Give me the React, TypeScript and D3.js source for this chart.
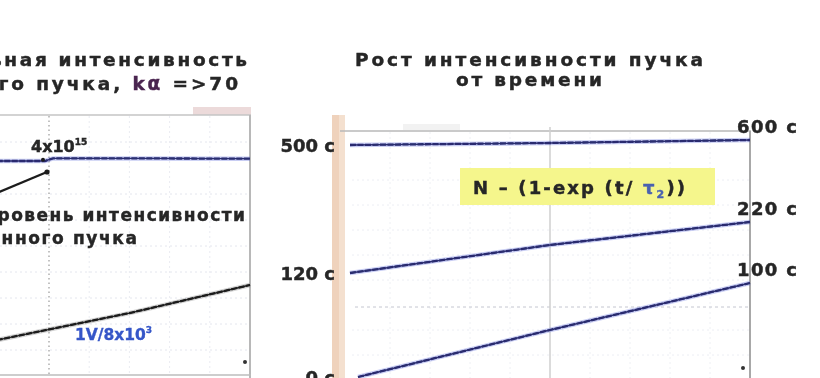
import React from 'react';
import * as d3 from 'd3';

const W = 820;
const H = 378;
const FONT = '"DejaVu Sans", "Liberation Sans", Arial, sans-serif';

// ---- left panel (time in divisions, value in divisions) ----
const plateauT = [3.7, 4.9, 5.1, 7, 10];
const plateauV = [8.27, 8.27, 8.37, 8.37, 8.36];
const rampT = [3.7, 7, 10];
const rampV = [1.38, 2.42, 3.5];
const leftGridV = [1, 2, 3, 4, 5, 6, 7, 9];
const leftGridT = [6, 7, 8, 9];

// ---- right panel ----
const rightT = [0, 5, 10];
const s500 = [9.4, 9.48, 9.6];
const s120 = [4.28, 5.4, 6.32];
const s0T = [0.2, 5, 10];
const s0 = [0.12, 2.0, 3.88];
const rightStartLabels = ['500 с', '120 с', '0 с'];
const rightEndLabels = ['600 с', '220 с', '100 с'];
const rightDashedV = [2.92];
const rightGridV = [1, 2, 4, 5, 6, 7, 8];
const rightGridT = [1, 2, 3, 4, 6, 7, 8, 9];

const lx = d3.scaleLinear().domain([0, 10]).range([-152, 250]);
const ly = d3.scaleLinear().domain([0, 10]).range([376, 116]);
const rx = d3.scaleLinear().domain([0, 10]).range([350, 750]);
const ry = d3.scaleLinear().domain([0, 10]).range([380, 130]);

const zip = (t: number[], v: number[]) => t.map((d, i) => [d, v[i]] as [number, number]);
const lLine = d3.line<[number, number]>().x(d => lx(d[0])).y(d => ly(d[1]));
const rLine = d3.line<[number, number]>().x(d => rx(d[0])).y(d => ry(d[1]));

const INK = '#262626';

function Trace({ d, color, halo }: { d: string; color: string; halo: string }) {
  return (
    <g>
      <path d={d} fill="none" stroke={halo} strokeWidth={4.5} strokeOpacity={0.3} />
      <path d={d} fill="none" stroke={color} strokeWidth={2.3} strokeDasharray="6 1.5" />
      <path d={d} fill="none" stroke={color} strokeWidth={1.4} />
    </g>
  );
}

export default function App() {
  const rSeries = [zip(rightT, s500), zip(rightT, s120), zip(s0T, s0)];
  const txt = { stroke: INK, strokeWidth: 0.45, fill: INK } as const;
  return (
    <svg width={W} height={H} style={{ position: 'absolute', left: 0, top: 0, background: '#fff' }}
      fontFamily={FONT} fontWeight="bold">
      <defs>
        <filter id="soft" x="-5%" y="-5%" width="110%" height="110%">
          <feGaussianBlur stdDeviation={0.45} />
        </filter>
      </defs>
      <rect x={0} y={0} width={W} height={H} fill="#ffffff" />
      <g filter="url(#soft)">
        {/* ===== left panel ===== */}
        <text x={-140} y={66} fontSize={18.5} textLength={387} lengthAdjust="spacing" {...txt}>Максимальная интенсивность</text>
        <text x={-158} y={90} fontSize={18.5} textLength={396} lengthAdjust="spacing" {...txt}>
          накопленного пучка,  <tspan fill="#4a2550" stroke="#4a2550">kα</tspan> =&gt;70
        </text>

        <rect x={193} y={107} width={58} height={8} fill="#ecdada" />
        <line x1={0} x2={251} y1={115} y2={115} stroke="#c4c4c4" strokeWidth={1.5} />
        <line x1={250} x2={250} y1={115} y2={378} stroke="#b8b8b8" strokeWidth={2} />
        <line x1={0} x2={251} y1={375} y2={375} stroke="#bdbdbd" strokeWidth={1.5} />

        {leftGridV.map(v => (
          <line key={'lgv' + v} x1={0} x2={250} y1={ly(v)} y2={ly(v)} stroke="#e4e6ee" strokeDasharray="2 3" />
        ))}
        {leftGridT.map(t => (
          <line key={'lgt' + t} x1={lx(t)} x2={lx(t)} y1={116} y2={375} stroke="#eaecf2" strokeDasharray="2 3" />
        ))}
        <line x1={lx(5)} x2={lx(5)} y1={116} y2={376} stroke="#9a9a9a" strokeWidth={1.2} strokeDasharray="1.5 3" />

        <Trace d={lLine(zip(plateauT, plateauV)) || ''} color="#2a2d70" halo="#4a5ad8" />
        <Trace d={lLine(zip(rampT, rampV)) || ''} color="#1c1c1c" halo="#666" />

        <text x={31} y={152} fontSize={16} {...txt}>4x10<tspan fontSize={9} dy={-7}>15</tspan></text>
        <line x1={lx(3.7)} y1={193} x2={lx(4.95)} y2={172} stroke="#1c1c1c" strokeWidth={2.4} />
        <circle cx={lx(4.95)} cy={172} r={2.6} fill="#1c1c1c" />
        <circle cx={lx(4.85)} cy={ly(8.32)} r={2} fill="#1c1c1c" />

        <text x={-15} y={221} fontSize={17} textLength={260} lengthAdjust="spacing" {...txt}>уровень интенсивности</text>
        <text x={-92} y={244} fontSize={17} textLength={229} lengthAdjust="spacing" {...txt}>накопленного пучка</text>

        <text x={75} y={340} fontSize={15.5} fill="#3656c8" stroke="#3656c8" strokeWidth={0.35}>1V/8x10<tspan fontSize={9} dy={-7}>3</tspan></text>
        <circle cx={245} cy={362} r={2} fill="#333" />

        {/* ===== right panel ===== */}
        <text x={355} y={66} fontSize={18.5} textLength={348} lengthAdjust="spacing" {...txt}>Рост интенсивности пучка</text>
        <text x={456} y={86} fontSize={18.5} textLength={146} lengthAdjust="spacing" {...txt}>от времени</text>

        <rect x={332} y={115} width={13} height={263} fill="#efd2bc" />
        <rect x={339} y={115} width={6} height={263} fill="#f4e0cf" />
        <rect x={403} y={124} width={57} height={6} fill="#f2f2f2" />
        <line x1={340} x2={751} y1={131} y2={131} stroke="#b8b8b8" strokeWidth={1.5} />
        <line x1={750} x2={750} y1={131} y2={378} stroke="#a8a8a8" strokeWidth={2} />

        {rightGridV.map(v => (
          <line key={'rgv' + v} x1={352} x2={750} y1={ry(v)} y2={ry(v)} stroke="#eceef4" strokeDasharray="2 3" />
        ))}
        {rightGridT.map(t => (
          <line key={'rgt' + t} x1={rx(t)} x2={rx(t)} y1={132} y2={378} stroke="#eef0f4" strokeDasharray="2 3" />
        ))}
        {rightDashedV.map(v => (
          <line key={'rd' + v} x1={355} x2={750} y1={ry(v)} y2={ry(v)} stroke="#c4c6d0" strokeWidth={1} strokeDasharray="3 3" />
        ))}
        <line x1={rx(5)} x2={rx(5)} y1={127} y2={378} stroke="#cfcfcf" strokeWidth={1.5} />

        <rect x={460} y={168} width={255} height={37} fill="#f5f68c" />
        <text x={473} y={194} fontSize={18} textLength={212} lengthAdjust="spacing" {...txt}>
          N – (1-exp (t/ <tspan fill="#4a62b0" stroke="#4a62b0">τ</tspan><tspan fill="#4a62b0" stroke="#4a62b0" fontSize={11} dy={4}>2</tspan><tspan dy={-4}>))</tspan>
        </text>

        {rSeries.map((s, i) => (
          <Trace key={'rs' + i} d={rLine(s) || ''} color="#2a2d70" halo="#4a5ad8" />
        ))}

        {rSeries.map((s, i) => (
          <text key={'sl' + i} x={335} y={ry(s[0][1]) + 7} fontSize={18} textAnchor="end" {...txt}>
            {rightStartLabels[i]}
          </text>
        ))}
        {rSeries.map((s, i) => (
          <text key={'el' + i} x={737} y={ry(s[s.length - 1][1]) - 7} fontSize={18} textLength={60} lengthAdjust="spacing" {...txt}>
            {rightEndLabels[i]}
          </text>
        ))}
        <circle cx={743} cy={368} r={2} fill="#333" />
      </g>
    </svg>
  );
}
